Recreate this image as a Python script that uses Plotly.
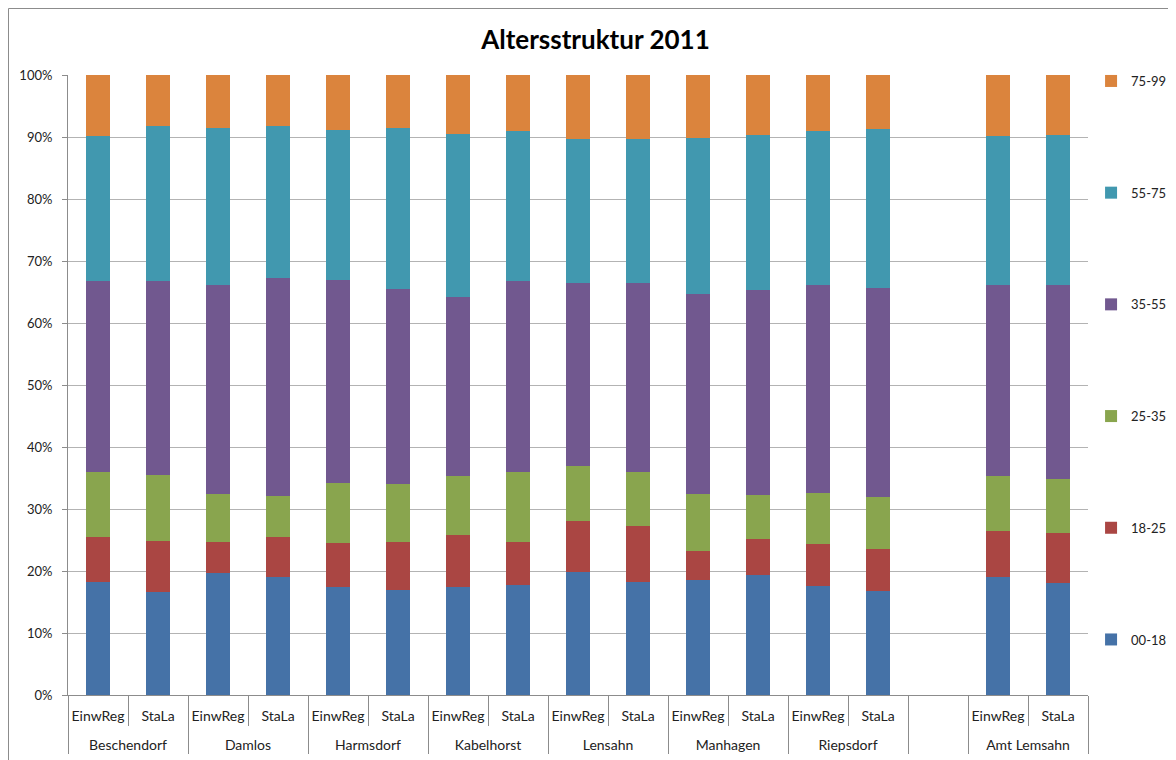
import plotly.graph_objects as go

orte = ["Beschendorf", "Damlos", "Harmsdorf", "Kabelhorst", "Lensahn",
        "Manhagen", "Riepsdorf", " ", "Amt Lemsahn"]
quellen = ["EinwReg", "StaLa"]

altersgruppen = ["00-18", "18-25", "25-35", "35-55", "55-75", "75-99"]
farben = ["#4572A7", "#AA4643", "#89A54E", "#71588F", "#4198AF", "#DB843D"]

# Anteile in %, Reihenfolge: je Ort EinwReg, StaLa (ohne Leerspalte)
a00_18 = [18.2, 16.6, 19.7, 19.1, 17.4, 17.0, 17.4, 17.7, 19.9, 18.3, 18.5, 19.3, 17.6, 16.8, 19.1, 18.0]
a18_25 = [7.3, 8.3, 5.0, 6.4, 7.1, 7.7, 8.4, 6.9, 8.2, 9.0, 4.7, 5.9, 6.8, 6.7, 7.4, 8.1]
a25_35 = [10.5, 10.6, 7.8, 6.6, 9.7, 9.3, 9.6, 11.4, 8.8, 8.7, 9.3, 7.1, 8.2, 8.4, 8.8, 8.7]
a35_55 = [30.8, 31.3, 33.6, 35.2, 32.7, 31.5, 28.8, 30.8, 29.5, 30.4, 32.1, 33.1, 33.5, 33.7, 30.8, 31.3]
a55_75 = [23.3, 24.9, 25.4, 24.4, 24.2, 26.0, 26.3, 24.1, 23.3, 23.3, 25.3, 24.9, 24.8, 25.7, 24.0, 24.2]
a75_99 = [9.9, 8.3, 8.5, 8.3, 8.9, 8.5, 9.5, 9.1, 10.3, 10.3, 10.1, 9.7, 9.1, 8.7, 9.9, 9.7]

reihen = [a00_18, a18_25, a25_35, a35_55, a55_75, a75_99]

# x-Achse mit zwei Ebenen, Leerspalte vor "Amt Lemsahn"
aussen = []
innen = []
for ort in orte:
    if ort.strip() == "":
        aussen.append(ort)
        innen.append(" ")
    else:
        for q in quellen:
            aussen.append(ort)
            # leere zweite Zeile schiebt die Ortsnamen nach unten
            innen.append(q + "<br>&nbsp;")

gap_index = innen.index(" ")


def mit_luecke(werte):
    w = list(werte)
    w.insert(gap_index, None)
    return w


fig = go.Figure()
for i, (name, werte, farbe) in enumerate(zip(altersgruppen, reihen, farben)):
    fig.add_trace(go.Bar(
        x=[aussen, innen],
        y=mit_luecke(werte),
        name=name,
        legendgroup=name,
        legendrank=len(altersgruppen) - i,
        marker=dict(color=farbe, line=dict(width=0)),
    ))

# Seite hat 8px Rand, daher 1168x752
fig.update_layout(
    barmode="stack",
    barnorm="percent",
    bargap=0.6,
    width=1168,
    height=752,
    paper_bgcolor="white",
    plot_bgcolor="white",
    font=dict(family="Lato", size=13, color="#222222"),
    margin=dict(l=60, r=88, t=67, b=65, autoexpand=False),
    title=dict(text="<b>Altersstruktur 2011</b>", x=0.503, xref="container",
               y=1 - 32 / 752, yanchor="middle", font=dict(size=26, color="black")),
    legend=dict(x=1.003, xanchor="left", y=1.0145, yanchor="top",
                traceorder="grouped", tracegroupgap=91.8, maxheight=720,
                font=dict(size=13), itemwidth=30),
    showlegend=True,
)

fig.update_yaxes(
    range=[0, 100], dtick=10, ticksuffix="%",
    showgrid=True, gridcolor="#B3B3B3", gridwidth=1,
    showline=True, linecolor="#8C8C8C", linewidth=1,
    ticks="outside", ticklen=5, tickcolor="#8C8C8C",
    ticklabelstandoff=7,
    zeroline=False, tickfont=dict(size=13),
)
fig.update_xaxes(
    showline=True, linecolor="#8C8C8C", linewidth=1,
    ticks="outside", ticklen=30, tickcolor="#8C8C8C",
    ticklabelstandoff=8, tickangle=0,
    showdividers=True, dividercolor="#8C8C8C", dividerwidth=1,
    tickfont=dict(size=14),
)

# Rahmen des Diagrammbereichs
fig.add_shape(type="line", xref="paper", yref="paper",
              x0=-59.5 / 1020, x1=-59.5 / 1020, y0=-0.2, y1=1 + 66.5 / 620,
              line=dict(color="#8C8C8C", width=1))
fig.add_shape(type="line", xref="paper", yref="paper",
              x0=-59.5 / 1020, x1=1.2, y0=1 + 66.5 / 620, y1=1 + 66.5 / 620,
              line=dict(color="#8C8C8C", width=1))

fig.write_html("out.html")
